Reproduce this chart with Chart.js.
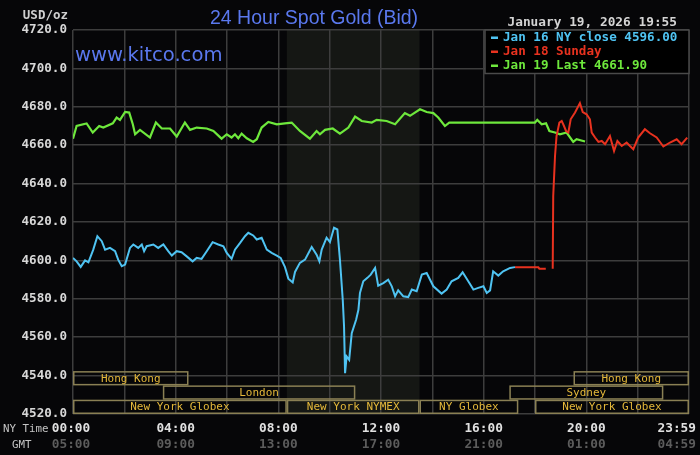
<!DOCTYPE html>
<html>
<head>
<meta charset="utf-8">
<script src="https://cdn.jsdelivr.net/npm/chart.js@4.4.1/dist/chart.umd.min.js"></script>
<style>
html,body{margin:0;padding:0;background:#060608;}
#wrap{width:700px;height:455px;position:relative;}
</style>
</head>
<body>
<div id="wrap"><canvas id="c" width="700" height="455"></canvas></div>
<script>
// ---- data (x in hours, NY time) ----
const seriesLabels = ['Jan 16 NY close 4596.00', 'Jan 18 Sunday', 'Jan 19 Last 4661.90'];

const blueTimes = [0,0.14,0.30,0.47,0.60,0.79,0.95,1.12,1.25,1.44,1.64,1.76,1.90,2.03,2.22,2.35,2.54,2.68,2.77,2.87,3.13,3.32,3.52,3.71,3.85,4.04,4.23,4.43,4.66,4.82,5.01,5.21,5.44,5.66,5.86,5.99,6.18,6.31,6.51,6.70,6.83,7.02,7.16,7.35,7.55,7.74,7.94,8.09,8.26,8.39,8.56,8.65,8.84,9.04,9.30,9.49,9.60,9.69,9.88,10.01,10.17,10.30,10.40,10.51,10.56,10.60,10.66,10.76,10.86,11.03,11.12,11.18,11.31,11.47,11.60,11.77,11.89,12.09,12.28,12.42,12.55,12.67,12.87,13.06,13.20,13.39,13.59,13.78,14.04,14.36,14.56,14.75,15.01,15.18,15.40,15.60,15.79,15.99,16.12,16.25,16.37,16.57,16.76,17.03,17.22];
const blueValues = [4601.3,4599.5,4596.6,4600,4599,4605.6,4612.6,4610,4605.6,4606.5,4604.8,4600.4,4597,4597.8,4606.5,4608.3,4606.5,4608.3,4604.8,4607.4,4608.3,4606.5,4608.3,4604.8,4602.5,4604.8,4604.3,4602.1,4599.5,4601.3,4600.8,4604.8,4609.5,4608.3,4607.4,4603.9,4600.8,4605.6,4609.1,4612.6,4614.4,4613,4610.9,4611.8,4605.6,4603.9,4602.5,4601.3,4596.5,4590.5,4588.5,4594,4598.7,4600.4,4607,4603,4599.5,4605.6,4611.8,4609.5,4617,4616.1,4600.4,4579.5,4565.6,4541.3,4550,4548.2,4562.1,4569.1,4574.3,4583,4589.1,4590.9,4592.6,4596.1,4586.8,4588.2,4590,4586.5,4581.3,4584.4,4581.3,4580.9,4584.8,4583.9,4592.6,4593.4,4586.5,4582.7,4584.8,4589.1,4590.9,4593.8,4589.1,4584.8,4585.7,4586.5,4583,4584.4,4594.3,4592.1,4594.3,4596.1,4596.5];

const redTimes = [17.22,18.13,18.17,18.42,18.55,18.69,18.71,18.78,18.84,18.95,19.04,19.10,19.21,19.30,19.39,19.56,19.75,19.86,20.01,20.14,20.21,20.34,20.47,20.60,20.73,20.92,21.08,21.21,21.38,21.57,21.70,21.83,22.02,22.28,22.48,22.74,23.00,23.26,23.52,23.71,23.93];
const redValues = [4596.4,4596.4,4595.7,4595.7,null,4595.7,4633.5,4654.4,4664.8,4671.8,4672.6,4670.9,4667.4,4666.6,4673.5,4677,4681.9,4677.3,4676.1,4673.5,4666.6,4664,4661.7,4662.2,4660.5,4664.8,4657,4662.2,4659.6,4661.4,4659.6,4657.9,4664,4668.3,4666.2,4664,4659.3,4661.4,4663.1,4660.5,4664];

const greenTimes = [0,0.14,0.53,0.77,1.02,1.18,1.55,1.70,1.83,2.03,2.19,2.33,2.42,2.61,3.00,3.23,3.46,3.78,4.04,4.36,4.56,4.82,5.21,5.47,5.79,5.99,6.18,6.31,6.44,6.57,6.77,7.02,7.16,7.35,7.61,7.94,8.26,8.52,8.84,9.23,9.49,9.62,9.82,10.12,10.40,10.73,10.99,11.25,11.64,11.83,12.22,12.55,12.93,13.13,13.52,13.78,14.04,14.23,14.49,14.66,18.00,18.09,18.26,18.43,18.56,18.78,18.97,19.23,19.49,19.62,19.95];
const greenValues = [4663.4,4670,4671.3,4666.6,4670,4669.2,4671.4,4674.4,4673.2,4677.3,4677,4670.9,4665.7,4668,4664,4671.8,4668.7,4668.7,4664.5,4671.8,4668,4669.2,4668.7,4667.4,4663.4,4665.7,4664,4665.7,4663.6,4666,4663.6,4661.7,4663.1,4669.2,4672.1,4670.9,4671.4,4671.8,4667.4,4663.4,4667.4,4665.7,4668,4668.7,4666,4669.2,4674.9,4672.6,4671.8,4673.2,4672.6,4670.9,4676.7,4675.3,4678.7,4677.3,4676.7,4674.4,4670,4671.8,4671.8,4673.2,4670.9,4671.4,4667.4,4666.6,4665.7,4666.6,4661.7,4663.1,4661.9];

const xTickHours = [0, 4, 8, 12, 16, 20, 24];
const nyTimeLabels = ['00:00','04:00','08:00','12:00','16:00','20:00','23:59'];
const gmtLabels = ['05:00','09:00','13:00','17:00','21:00','01:00','04:59'];

const nymexShade = [8.33, 13.5];

const sessionNames = ['Hong Kong','Hong Kong','London','Sydney','New York Globex','New York NYMEX','NY Globex','New York Globex'];
const sessionRows  = [0,0,1,1,2,2,2,2];
const sessionStart = [0,19.5,3.5,17.0,0,8.33,13.5,18.0];
const sessionEnd   = [4.5,24,11.0,23.0,8.33,13.5,17.35,24];

const titleText = '24 Hour Spot Gold (Bid)';
const siteText = 'www.kitco.com';
const dateText = 'January 19, 2026 19:55';
const unitText = 'USD/oz';

// ---- styles ----
const BG = '#060608';
const GRID = '#3d3d3d';
const MONO = '"DejaVu Sans Mono", monospace';
const colors = ['#4fc3f2', '#e8321f', '#6ee83c'];

function pts(t, v){ return t.map((x,i)=>({x:x, y:v[i]})); }

const deco = {
  id: 'deco',
  beforeDraw(chart){
    const {ctx, chartArea:a, scales:{x}} = chart;
    ctx.save();
    ctx.fillStyle = BG;
    ctx.fillRect(0,0,chart.width,chart.height);
    const s = x.getPixelForValue(nymexShade[0]), e = x.getPixelForValue(nymexShade[1]);
    ctx.fillStyle = '#151714';
    ctx.fillRect(s, a.top, e - s, a.bottom - a.top);
    ctx.restore();
  },
  afterDatasetsDraw(chart){
    const {ctx, chartArea:a, scales:{x}} = chart;
    const rowH = 14.3;
    ctx.save();
    ctx.lineWidth = 1.5;
    ctx.strokeStyle = '#8a8054';
    ctx.fillStyle = '#e4b83a';
    ctx.font = '11px ' + MONO;
    ctx.textAlign = 'center';
    ctx.textBaseline = 'middle';
    sessionNames.forEach((n,i)=>{
      const x1 = x.getPixelForValue(sessionStart[i]);
      const x2 = x.getPixelForValue(sessionEnd[i]);
      const top = a.bottom - (3 - sessionRows[i]) * rowH;
      ctx.strokeRect(x1 + 0.75, top + 0.75, x2 - x1 - 1.5, rowH - 1.5);
      ctx.fillText(n, (x1 + x2) / 2, top + rowH / 2 + 0.5);
    });
    ctx.restore();
  },
  afterDraw(chart){
    const {ctx, chartArea:a, scales:{x}} = chart;
    ctx.save();
    // title
    ctx.fillStyle = '#5a78ee';
    ctx.font = '19.5px "Liberation Sans", Arial, sans-serif';
    ctx.textAlign = 'left';
    ctx.textBaseline = 'alphabetic';
    ctx.fillText(titleText, 210, 24);
    ctx.font = '19.6px "DejaVu Sans", sans-serif';
    ctx.fillText(siteText, 75, 61);
    // unit
    ctx.fillStyle = '#cfcfcf';
    ctx.font = 'bold 12.5px ' + MONO;
    ctx.textAlign = 'right';
    ctx.fillText(unitText, 68, 19);
    // date
    ctx.fillStyle = '#d4d4d4';
    ctx.font = 'bold 12.8px ' + MONO;
    ctx.fillText(dateText, a.right - 12, 26);
    // legend box
    const lw = 204, lh = 43.5;
    const lx = a.right - lw, ly = a.top;
    ctx.fillStyle = '#000000';
    ctx.fillRect(lx, ly, lw, lh);
    ctx.strokeStyle = '#4a4a4a';
    ctx.lineWidth = 1.5;
    ctx.strokeRect(lx, ly, lw, lh);
    ctx.textAlign = 'left';
    ctx.textBaseline = 'middle';
    ctx.font = 'bold 12.6px ' + MONO;
    chart.data.datasets.forEach((d,i)=>{
      const yy = ly + 7.5 + i * 14;
      ctx.fillStyle = d.borderColor;
      ctx.fillRect(lx + 6, yy - 1, 7, 2.5);
      ctx.fillText(d.label, lx + 18, yy + 0.5);
    });
    // x labels
    ctx.textBaseline = 'alphabetic';
    ctx.textAlign = 'center';
    ctx.font = 'bold 12.8px ' + MONO;
    xTickHours.forEach((h,i)=>{
      let px = x.getPixelForValue(h);
      const w = ctx.measureText(nyTimeLabels[i]).width;
      px = Math.min(Math.max(px, w/2 + 50), chart.width - 4 - w/2);
      if (i === 0) px = x.getPixelForValue(h) - 2;
      ctx.fillStyle = '#e0e0e0';
      ctx.fillText(nyTimeLabels[i], px, 432);
      ctx.fillStyle = '#5c5c5c';
      ctx.fillText(gmtLabels[i], px, 447.5);
    });
    ctx.textAlign = 'left';
    ctx.fillStyle = '#c4c4c4';
    ctx.font = '10.8px ' + MONO;
    ctx.fillText('NY Time', 3, 432);
    ctx.fillText('GMT', 12, 447.5);
    ctx.restore();
  }
};

new Chart(document.getElementById('c'), {
  type: 'line',
  data: {
    datasets: [
      { label: seriesLabels[0], data: pts(blueTimes, blueValues), borderColor: colors[0], backgroundColor: colors[0], borderWidth: 2, pointRadius: 0, tension: 0, spanGaps: false },
      { label: seriesLabels[1], data: pts(redTimes, redValues), borderColor: colors[1], backgroundColor: colors[1], borderWidth: 2, pointRadius: 0, tension: 0, spanGaps: false },
      { label: seriesLabels[2], data: pts(greenTimes, greenValues), borderColor: colors[2], backgroundColor: colors[2], borderWidth: 2.2, pointRadius: 0, tension: 0, spanGaps: false }
    ]
  },
  options: {
    responsive: false,
    animation: false,
    devicePixelRatio: 1,
    layout: { padding: { left: 0, top: 30, right: 11, bottom: 41 } },
    plugins: { legend: { display: false }, tooltip: { enabled: false } },
    scales: {
      x: {
        type: 'linear', min: 0, max: 24,
        ticks: { display: false, stepSize: 2 },
        grid: { color: GRID, lineWidth: 1.5, drawTicks: false },
        border: { display: false },
        afterFit(s){ s.height = 0; }
      },
      y: {
        min: 4520, max: 4720,
        ticks: { stepSize: 20, padding: 6, color: '#d8d8d8', font: { family: MONO, size: 12.6, weight: 'bold' }, callback: v => v.toFixed(1) },
        grid: { color: GRID, lineWidth: 1.5, drawTicks: false },
        border: { display: false },
        afterFit(s){ s.width = 73; }
      }
    }
  },
  plugins: [deco]
});
</script>
</body>
</html>
